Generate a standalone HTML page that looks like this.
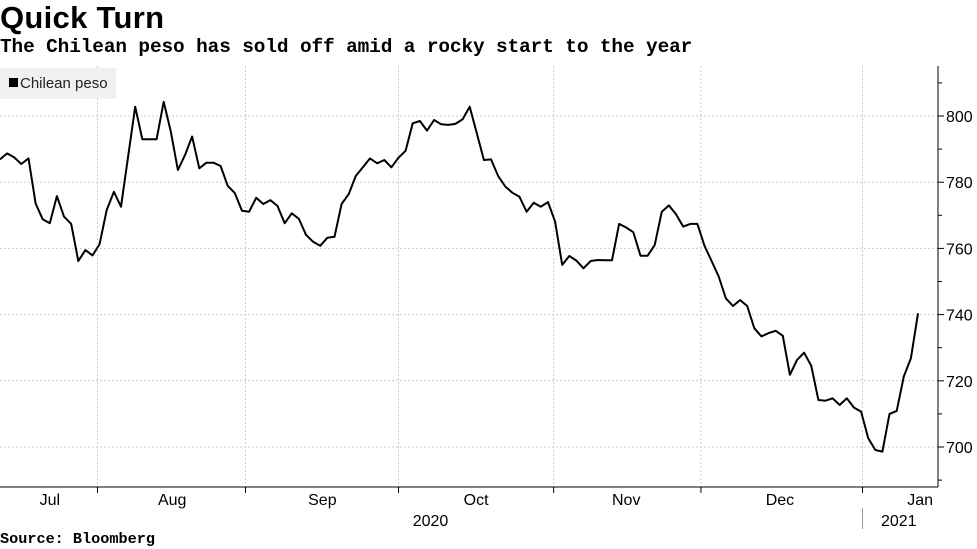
<!DOCTYPE html>
<html><head><meta charset="utf-8"><style>
body{margin:0;background:#fff;font-family:"Liberation Sans",sans-serif;}
#wrap{position:relative;width:977px;height:549px;overflow:hidden;}
.t{position:absolute;left:0;white-space:nowrap;font-weight:bold;color:#000;}
</style></head><body>
<div id="wrap">
<div class="t" style="top:0px;font-size:31px;letter-spacing:0.3px">Quick Turn</div>
<div class="t" style="top:36px;font-size:19.4px;font-family:'Liberation Mono',monospace;letter-spacing:-0.1px">The Chilean peso has sold off amid a rocky start to the year</div>
<div class="t" style="top:530px;font-size:15.2px;font-family:'Liberation Mono',monospace">Source: Bloomberg</div>
<svg id="svg" width="977" height="549" style="position:absolute;left:0;top:0"></svg>
</div>
<script>
const values=[786.9,788.7,787.5,785.5,787.2,773.6,768.8,767.6,775.8,769.6,767.4,756.2,759.5,757.9,761.3,771.6,777.1,772.6,787.7,802.8,793,793,793,804.3,795.3,783.7,788.2,793.8,784.2,785.9,785.9,784.9,778.9,776.7,771.4,771.1,775.3,773.4,774.6,772.8,767.6,770.6,768.9,764.1,762,760.8,763.2,763.5,773.4,776.4,781.9,784.5,787.2,785.7,786.7,784.5,787.4,789.5,797.8,798.5,795.6,798.8,797.5,797.3,797.6,799,802.8,
794.8,786.7,786.9,781.9,778.7,776.8,775.6,771.1,773.8,772.6,774,768.1,755,757.7,756.3,754,756.2,756.5,756.4,756.4,767.4,766.3,764.9,757.8,757.8,761,771.1,773,770.3,766.6,767.4,767.4,760.8,756.2,751.5,744.9,742.6,744.4,742.6,735.9,733.4,734.4,735.1,733.6,721.8,726.3,728.5,724.5,714.2,714,714.7,712.7,714.7,711.9,710.7,702.7,699.1,698.6,710,710.9,721.3,726.8,740.4];
const yTicks=[700,720,740,760,780,800];
const monthLabels=["Jul","Aug","Sep","Oct","Nov","Dec","Jan"];
const monthBoundaryIdx=[13.7,34.5,56,77.8,98.5,121.2];
const monthLabelIdx=[7,24.2,45.3,66.9,88,109.6,129.3];
const yearLabels=["2020","2021"];
const yearLabelIdx=[60.5,126.3];

const NS="http://www.w3.org/2000/svg";
const svg=document.getElementById('svg');
const L=0,R=938,T=66,B=487;
const xS=i=>L+i*(918/129);
const yS=v=>116+(800-v)*3.31;
function mk(tag,at,txt){const e=document.createElementNS(NS,tag);for(const k in at)e.setAttribute(k,at[k]);if(txt!==undefined)e.textContent=txt;svg.appendChild(e);return e;}

yTicks.forEach(v=>{
 const g=mk('line',{x1:L,x2:R,y1:yS(v),y2:yS(v),stroke:'#ccc','stroke-dasharray':'2,2','stroke-width':1});
 
 
 const tk=mk('line',{x1:R,x2:R+6,y1:yS(v),y2:yS(v),stroke:'#000'});
 
 
 const t=mk('text',{x:R+8,y:yS(v)+6,'font-size':16,'font-family':'Liberation Sans, sans-serif',fill:'#000'},String(v));
 
 
});
for(let v=690;v<=810;v+=20){
 const tk=mk('line',{x1:R,x2:R+4,y1:yS(v),y2:yS(v),stroke:'#000'});
 
 
}
monthBoundaryIdx.forEach(i=>{
 const g=mk('line',{x1:xS(i),x2:xS(i),y1:T,y2:B,stroke:'#ccc','stroke-dasharray':'2,2'});
 
 
 const tk=mk('line',{x1:xS(i),x2:xS(i),y1:B,y2:B+6,stroke:'#000'});
 
 
});
monthLabels.forEach((m,k)=>{
 const t=mk('text',{x:xS(monthLabelIdx[k]),y:505,'font-size':16,'text-anchor':'middle','font-family':'Liberation Sans, sans-serif',fill:'#000'},m);
 
 
});
yearLabels.forEach((y,k)=>{
 const t=mk('text',{x:xS(yearLabelIdx[k]),y:526,'font-size':16,'text-anchor':'middle','font-family':'Liberation Sans, sans-serif',fill:'#000'},y);
 
 
});
const sep=mk('line',{x1:xS(monthBoundaryIdx[5]),x2:xS(monthBoundaryIdx[5]),y1:508,y2:529,stroke:'#999'});


const ax=mk('line',{x1:L,x2:R,y1:B,y2:B,stroke:'#000'});


const ay=mk('line',{x1:R,x2:R,y1:T,y2:B,stroke:'#000'});


const pts=values.map((v,i)=>xS(i).toFixed(1)+','+yS(v).toFixed(1)).join(' ');
const pl=mk('polyline',{points:pts,fill:'none',stroke:'#000','stroke-width':2,'stroke-linejoin':'round'});


const lb=mk('rect',{x:0,y:68,width:116,height:31,fill:'#f0f0f0'});


const ls=mk('rect',{x:9,y:78,width:9,height:9,fill:'#000'});


const lt=mk('text',{x:20,y:88,'font-size':15,'font-family':'Liberation Sans, sans-serif',fill:'#222'},'Chilean peso');


</script>
</body></html>
